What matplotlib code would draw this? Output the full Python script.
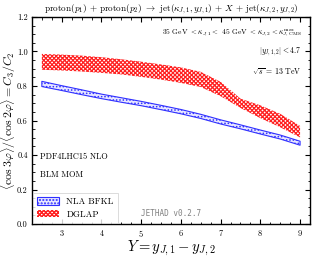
import matplotlib
matplotlib.use("Agg")
import matplotlib.pyplot as plt
import numpy as np

plt.rcParams['font.family'] = 'serif'
plt.rcParams['font.serif'] = ['cmr10', 'DejaVu Serif']
plt.rcParams['mathtext.fontset'] = 'cm'
plt.rcParams['axes.formatter.use_mathtext'] = True

Y = [2.5, 3.0, 3.5, 4.0, 4.5, 5.0, 5.5, 6.0, 6.5, 7.0, 7.5, 8.0, 8.5, 9.0]
bfkl_up = [0.827, 0.802, 0.778, 0.753, 0.732, 0.711, 0.688, 0.664, 0.636, 0.604, 0.575, 0.545, 0.516, 0.480]
bfkl_lo = [0.797, 0.774, 0.750, 0.727, 0.706, 0.686, 0.663, 0.639, 0.612, 0.580, 0.552, 0.522, 0.493, 0.457]
dglap_up = [0.986, 0.982, 0.976, 0.967, 0.955, 0.941, 0.925, 0.908, 0.882, 0.824, 0.727, 0.688, 0.639, 0.569]
dglap_lo = [0.894, 0.890, 0.884, 0.876, 0.867, 0.853, 0.837, 0.818, 0.794, 0.741, 0.673, 0.614, 0.561, 0.502]

fig = plt.figure(figsize=(3.16, 2.57), dpi=100)
ax = fig.add_axes([0.101, 0.128, 0.880, 0.806])

with plt.rc_context({'hatch.linewidth': 0.7}):
    hb = ax.fill_between(Y, bfkl_lo, bfkl_up, facecolor='#e8e8ff', edgecolor='#3030ff',
                         hatch='.....', linewidth=0.8, label='NLA BFKL')
with plt.rc_context({'hatch.linewidth': 0.9}):
    hd = ax.fill_between(Y, dglap_lo, dglap_up, facecolor='white', edgecolor='#ff2020',
                         hatch='xxxxxxxx', linewidth=0.0, label='DGLAP')

ax.set_xlim(2.25, 9.25)
ax.set_ylim(0.0, 1.2)
ax.set_xticks([3, 4, 5, 6, 7, 8, 9])
ax.set_yticks([0.0, 0.2, 0.4, 0.6, 0.8, 1.0, 1.2])
ax.set_yticklabels(['0.0', '0.2', '0.4', '0.6', '0.8', '1.0', '1.2'])
ax.set_xticks(np.arange(2.25, 9.26, 0.25), minor=True)
ax.set_yticks(np.arange(0.0, 1.201, 0.05), minor=True)
ax.tick_params(which='both', direction='in', top=True, right=True, labelsize=6)
ax.tick_params(axis='x', pad=3)
ax.tick_params(axis='y', pad=3)
ax.tick_params(which='major', length=3.5, width=0.8)
ax.tick_params(which='minor', length=1.8, width=0.6)
for s in ax.spines.values():
    s.set_linewidth(1.0)

ax.set_xlabel(r'$Y = y_{J,1} - y_{J,2}$', fontsize=10.5, labelpad=0)
ax.set_ylabel(r'$\langle \cos 3\varphi \rangle / \langle \cos 2\varphi \rangle = C_3/C_2$',
              fontsize=8.6)
ax.yaxis.set_label_coords(-0.05, 0.5)
ax.set_title(r'proton$(p_1)$ + proton$(p_2)$ $\rightarrow$ jet$(\kappa_{J,1}, y_{J,1})$ + $X$ + jet$(\kappa_{J,2}, y_{J,2})$',
             fontsize=6.6, pad=4)

ax.text(0.971, 0.923, r'35 GeV $< \kappa_{J,1} <$ 45 GeV $< \kappa_{J,2} < \kappa_{J,\,\rm CMS}^{\,\rm max}$',
        transform=ax.transAxes, ha='right', va='center', fontsize=5.4)
ax.text(0.971, 0.831, r'$|y_{J,1,2}| < 4.7$', transform=ax.transAxes, ha='right', va='center', fontsize=5.6)
ax.text(0.971, 0.736, r'$\sqrt{s}$ = 13 TeV', transform=ax.transAxes, ha='right', va='center', fontsize=5.6)
ax.text(0.029, 0.324, 'PDF4LHC15 NLO', transform=ax.transAxes, ha='left', va='center', fontsize=6)
ax.text(0.029, 0.237, 'BLM MOM', transform=ax.transAxes, ha='left', va='center', fontsize=6)
ax.text(5.75, 0.06, 'JETHAD v0.2.7', ha='center', va='center', fontsize=5.5,
        family='monospace', color='gray')

leg = ax.legend(handles=[hb, hd], loc='lower left', fontsize=6.5, frameon=True,
                fancybox=False, edgecolor='#cccccc', borderpad=0.5, handlelength=2.4,
                handleheight=0.9, labelspacing=0.4, borderaxespad=0.1)
leg.get_frame().set_linewidth(0.6)

fig.savefig('out.png', dpi=100)
